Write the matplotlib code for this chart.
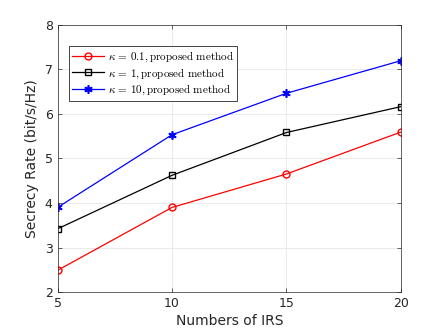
import numpy as np
import matplotlib.pyplot as plt

plt.rcParams['mathtext.fontset'] = 'cm'

# data
num_irs = [5, 10, 15, 20]
rate_k01 = [2.49, 3.90, 4.65, 5.59]
rate_k1 = [3.42, 4.62, 5.58, 6.16]
rate_k10 = [3.90, 5.53, 6.46, 7.19]
labels = [r'$\kappa\,=\,0.1\mathrm{,proposed\ method}$',
          r'$\kappa\,=\,1\mathrm{,proposed\ method}$',
          r'$\kappa\,=\,10\mathrm{,proposed\ method}$']

fig = plt.figure(figsize=(4.43, 3.32), dpi=100)
ax = fig.add_axes([0.13, 0.12, 0.775, 0.806])

ax.plot(num_irs, rate_k01, color='red', marker='o', ms=5, mfc='none', lw=0.9, label=labels[0])
ax.plot(num_irs, rate_k1, color='black', marker='s', ms=5, mfc='none', lw=0.9, label=labels[1])
ax.plot(num_irs, rate_k10, color='blue', marker=(6, 2, 0), ms=6, mew=1.2, lw=0.9, label=labels[2])

ax.set_xlim(5, 20)
ax.set_ylim(2, 8)
ax.set_xticks([5, 10, 15, 20])
ax.set_yticks(range(2, 9))
ax.grid(True, color='#e6e6e6', lw=0.6)
ax.set_axisbelow(True)
ax.tick_params(direction='in', top=True, right=True, labelsize=9, length=3, width=0.5, colors='#262626')
for s in ax.spines.values():
    s.set_linewidth(0.5)
    s.set_color('#262626')
ax.set_xlabel('Numbers of IRS', fontsize=10, color='#262626', labelpad=3)
ax.set_ylabel('Secrecy Rate (bit/s/Hz)', fontsize=10, color='#262626', labelpad=4)

leg = ax.legend(loc='upper left', bbox_to_anchor=(0.033, 0.92), fontsize=8, fancybox=False,
                edgecolor='#262626', framealpha=1, borderpad=0.3, labelspacing=0.22,
                handlelength=2.9, handletextpad=0.3, borderaxespad=0)
leg.get_frame().set_linewidth(0.6)

fig.savefig('out.png', dpi=100)
